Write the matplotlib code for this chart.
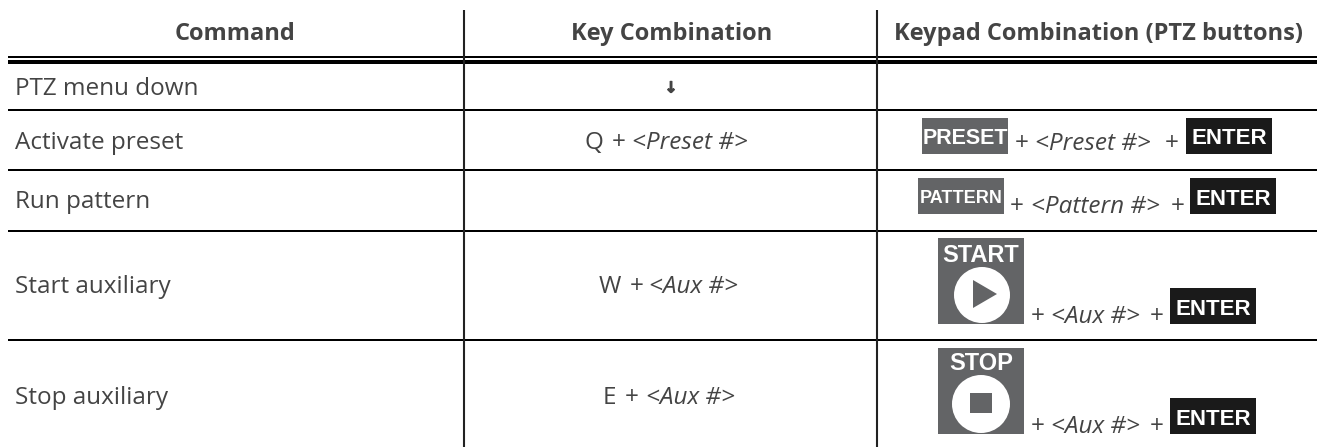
from matplotlib import pyplot as plt
from matplotlib import patheffects
from matplotlib.patches import Rectangle, Circle, Polygon

headers = ["Command", "Key Combination", "Keypad Combination (PTZ buttons)"]
commands = ["PTZ menu down", "Activate preset", "Run pattern", "Start auxiliary", "Stop auxiliary"]
key_plain = ["\u2193", "Q", "", "W", "E"]
key_italic = ["", "<Preset #>", "", "<Aux #>", "<Aux #>"]
keypad_italic = ["", "<Preset #>", "<Pattern #>", "<Aux #>", "<Aux #>"]
button_labels = ["", "PRESET", "PATTERN", "START", "STOP"]

DARK = "#444444"
GREY = "#636466"
BLACK = "#1a1a1a"
FONT = "Open Sans"
KEYS = "Liberation Sans"
BODY = 17.5

fig = plt.figure(figsize=(13.17, 4.47), dpi=100)
ax = fig.add_axes([0, 0, 1, 1])
ax.set_xlim(0, 1317)
ax.set_ylim(447, 0)
ax.axis("off")

# table rules, in pixels
for y, w in [(57, 2), (62, 4), (110, 2), (170, 2), (230.5, 2), (340, 2)]:
    ax.plot([8, 1317], [y, y], color="black", lw=w * 0.72, solid_capstyle="butt")
for x in [464, 877]:
    ax.plot([x, x], [10, 447], color="#222222", lw=1.5, solid_capstyle="butt")

# header row
for h, x in zip(headers, [235, 672, 1098]):
    ax.text(x, 40, h, ha="center", va="baseline", fontsize=17, fontweight="bold",
            color=DARK, family=FONT)

# first column and key column
row_y = [95, 149, 208, 293, 404]
for i, c in enumerate(commands):
    ax.text(15, row_y[i], c, ha="left", va="baseline", fontsize=BODY, color=DARK, family=FONT)

arrow = ax.text(671, 88, key_plain[0], ha="center", va="center", fontsize=11, fontweight="bold",
                color=DARK, family="DejaVu Sans")
arrow.set_path_effects([patheffects.withStroke(linewidth=0.8, foreground=DARK)])

# (key start, plus, italic start)
key_x = [None, (585, 612, 632), None, (599, 630, 649), (603, 625, 646)]
for i in [1, 3, 4]:
    xk, xp, xi = key_x[i]
    ax.text(xk, row_y[i], key_plain[i], ha="left", va="baseline", fontsize=BODY, color=DARK, family=FONT)
    ax.text(xp, row_y[i], "+", ha="left", va="baseline", fontsize=BODY, color=DARK, family=FONT)
    ax.text(xi, row_y[i], key_italic[i], ha="left", va="baseline", fontsize=BODY,
            style="italic", color=DARK, family=FONT)


def button(x0, y0, w, h, label, color, size, text_y=None):
    ax.add_patch(Rectangle((x0, y0), w, h, facecolor=color, edgecolor="none"))
    ty = y0 + 26 if text_y is None else text_y
    ax.text(x0 + w / 2, ty, label, ha="center", va="baseline", fontsize=size,
            fontweight="bold", color="white", family=KEYS)


# keypad buttons and the text around them
button(922, 118, 86, 36, button_labels[1], GREY, 15.5)
button(1186, 118, 86, 36, "ENTER", BLACK, 16)
button(918, 178, 86, 36, button_labels[2], GREY, 13, text_y=203)
button(1190, 178, 86, 36, "ENTER", BLACK, 16, text_y=205)

button(938, 238, 86, 86, button_labels[3], GREY, 17, text_y=262)
ax.add_patch(Circle((982, 295), 28, facecolor="white", edgecolor="none"))
ax.add_patch(Polygon([(973, 280), (997, 294), (973, 308)], facecolor=GREY, edgecolor="none"))
button(1170, 288, 86, 36, "ENTER", BLACK, 16, text_y=315)

button(938, 348, 86, 86, button_labels[4], GREY, 17, text_y=370)
ax.add_patch(Circle((981, 404), 29, facecolor="white", edgecolor="none"))
ax.add_patch(Rectangle((970, 393), 22, 20, facecolor=GREY, edgecolor="none"))
button(1170, 398, 86, 36, "ENTER", BLACK, 16, text_y=425)

# (baseline, first plus, italic start, second plus)
runs = [(150, 1015, 1035, 1165), (213, 1010, 1031, 1171), (323, 1031, 1051, 1150), (433, 1031, 1051, 1150)]
for i, (y, p1, xi, p2) in zip([1, 2, 3, 4], runs):
    ax.text(p1, y, "+", ha="left", va="baseline", fontsize=BODY, color=DARK, family=FONT)
    ax.text(xi, y, keypad_italic[i], ha="left", va="baseline", fontsize=BODY, style="italic",
            color=DARK, family=FONT)
    ax.text(p2, y, "+", ha="left", va="baseline", fontsize=BODY, color=DARK, family=FONT)

fig.savefig("out.png", dpi=100)
